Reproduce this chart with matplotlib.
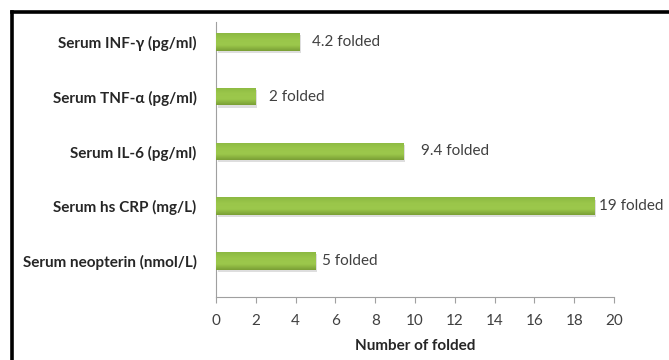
import numpy as np
import matplotlib.pyplot as plt
from matplotlib.lines import Line2D
from matplotlib.colors import LinearSegmentedColormap

plt.rcParams['font.family'] = ['Lato', 'DejaVu Sans']

categories = ['Serum neopterin (nmol/L)', 'Serum hs CRP (mg/L)', 'Serum IL-6 (pg/ml)',
              'Serum TNF-\u03b1 (pg/ml)', 'Serum INF-\u03b3 (pg/ml)']
values = [5, 19, 9.4, 2, 4.2]
labels = ['5 folded', '19 folded', '9.4 folded', '2 folded', '4.2 folded']
label_pad = [6, 5, 18, 13, 12]  # pixel gap between bar end and label

fig = plt.figure(figsize=(6.69, 3.6), dpi=100)
ax = fig.add_axes([0.3229, 0.175, 0.595, 0.764])

y = np.arange(len(categories))
h = 0.32

# shadow
ax.barh(y - 0.04, values, height=h, left=0.08, color='#c8c8c8', alpha=0.6, zorder=1)
bars = ax.barh(y, values, height=h, color='#8dbb40', edgecolor='none', zorder=2)

# vertical gradient inside each bar
grad = np.linspace(0, 1, 64).reshape(-1, 1)
cmap = LinearSegmentedColormap.from_list('g', ['#7a9f35', '#9cc84c', '#9ac64a', '#8cb942'])
for b in bars:
    x0, y0 = b.get_x(), b.get_y()
    im = ax.imshow(grad, extent=[x0, x0 + b.get_width(), y0, y0 + b.get_height()],
                   aspect='auto', cmap=cmap, origin='lower', zorder=3)
    im.set_clip_path(b)

for i, (v, lab) in enumerate(zip(values, labels)):
    ax.annotate(lab, (v, y[i]), xytext=(label_pad[i] * 0.72, 0), textcoords='offset points',
                va='center', ha='left', fontsize=11, color='#404040')

ax.set_xlim(0, 20)
ax.set_ylim(-0.657, 4.365)
ax.set_xticks(range(0, 21, 2))
ax.set_yticks(y)
ax.set_yticklabels(categories, fontsize=11, fontweight='bold', color='#262626')
ax.tick_params(axis='y', length=0, pad=14)
ax.tick_params(axis='x', length=4, color='#a0a0a0', labelsize=11, labelcolor='#404040', pad=8)
ax.set_xlabel('Number of folded', fontsize=11, fontweight='bold', color='#262626', labelpad=8)

for s in ['top', 'right']:
    ax.spines[s].set_visible(False)
for s in ['left', 'bottom']:
    ax.spines[s].set_color('#a0a0a0')
    ax.spines[s].set_linewidth(0.8)

# outer black frame
fx = 11.5 / 669
fy = 1 - 11.5 / 360
fig.add_artist(Line2D([fx, fx], [0, fy], transform=fig.transFigure, color='black', lw=2.6))
fig.add_artist(Line2D([fx, 1], [fy, fy], transform=fig.transFigure, color='black', lw=2.6))

plt.savefig('out.png', dpi=100)
